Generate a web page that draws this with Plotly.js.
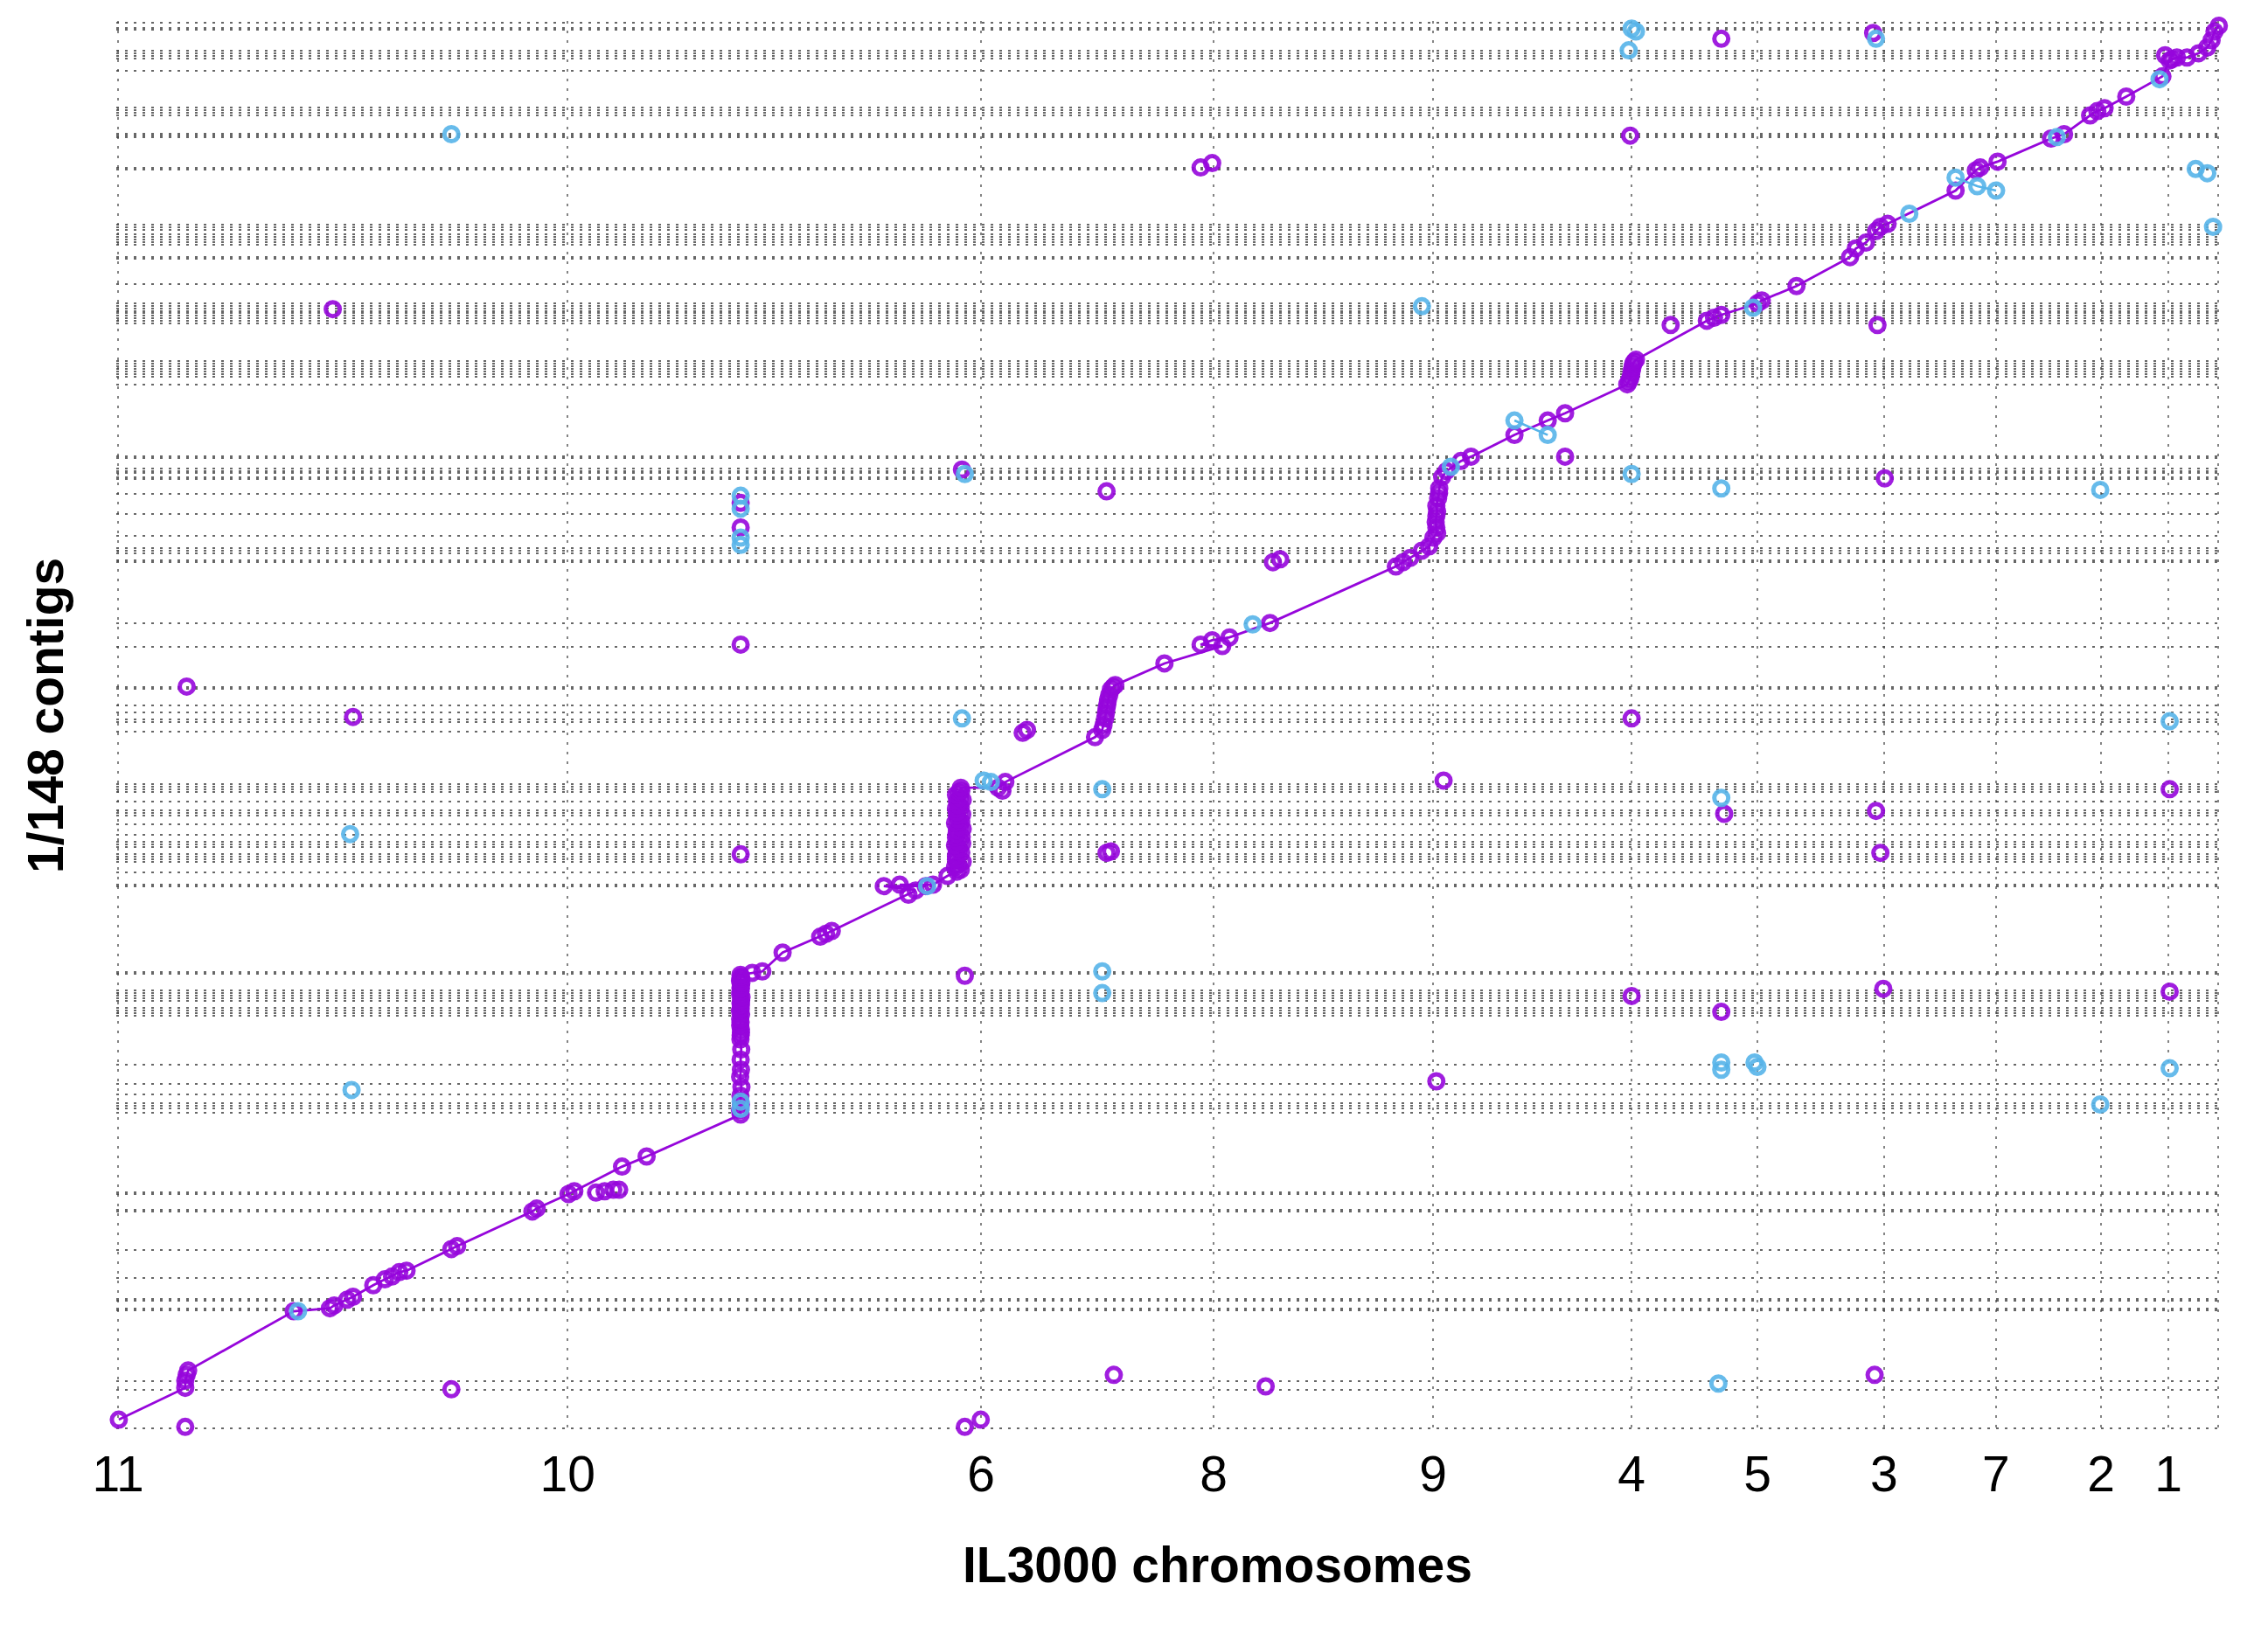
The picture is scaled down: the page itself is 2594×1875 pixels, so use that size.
<!DOCTYPE html>
<html>
<head>
<meta charset="utf-8">
<script src="https://cdn.plot.ly/plotly-3.0.1.min.js"></script>
<style>html,body{margin:0;padding:0;background:#fff;}#chart{width:2594px;height:1875px;}</style>
</head>
<body>
<div id="chart"></div>
<script>
// IL3000 chromosomes, in plotting order, and their lengths (kb)
const chromNames = ["11","10","6","8","9","4","5","3","7","2","1"];
const chromLengths = [4662, 4289, 2412, 2275, 2058, 1307, 1312, 1161, 1089, 698, 517];

// cumulative contig boundaries (kb) of the 148 contigs
const contigBounds = [0, 585, 718, 1796, 1822, 1942, 1968, 2288, 2713, 3298, 3325, 3564, 3591,
  4801, 4868, 4908, 4948, 5081, 5240, 5533, 6278, 6318, 6357, 6397, 6504, 6544, 6584, 6623, 6663,
  6916, 6943, 8246, 8273, 8459, 8618, 8658, 8698, 8738, 8845, 8884, 8924, 9031, 9190, 9323, 9363,
  9403, 9536, 9682, 9722, 9762, 9802, 10600, 10746, 10786, 10893, 10999, 11252, 11278, 11890,
  12249, 13180, 13207, 13313, 13353, 13393, 13579, 13912, 14218, 14444, 14470, 14537, 14564,
  14603, 14763, 14790, 15880, 16000, 16040, 16080, 16120, 16160, 16199, 16239, 16811, 16851,
  16891, 16931, 16971, 16997, 17037, 17077, 17117, 17410, 17795, 17822, 18008, 18048, 18088,
  18128, 18168, 18234, 18274, 18314, 19152, 19179, 19644, 19671, 19697, 19977, 20017, 20056,
  20096, 20655, 20841, 20881, 20921, 20961, 21280, 21307, 21386];

// collinear anchors (forward, purple): genome kb / contig kb
const diagX = [8, 697, 697, 712, 727, 1822, 2197, 2242, 2377, 2437, 2647, 2767, 2842, 2917, 2992,
  3457, 3517, 4297, 4342, 4672, 4732, 5227, 5482,
  6457, 6450, 6460, 6455, 6465, 6452, 6460, 6457, 6463, 6455, 6460, 6452, 6458, 6462, 6455, 6460, 6457,
  6455, 6462, 6450, 6465, 6455, 6460, 6452, 6466, 6455, 6460, 6450, 6462, 6457, 6452, 6460, 6457,
  6577, 6682, 6892, 7282, 7342, 7402, 7942, 8107, 8272, 8377, 8452, 8602,
  8700, 8715, 8690, 8720, 8705, 8695, 8725, 8710, 8700, 8715, 8730, 8720, 8740,
  8740, 8680, 8760, 8690, 8745, 8700, 8680, 8755, 8690, 8750, 8700, 8760, 8680, 8745, 8700, 8755,
  8690, 8740, 8700, 8760, 8690, 8745,
  9127, 9202, 10132, 10207, 10237, 10252, 10267, 10297, 10342, 10220, 10245, 10260, 10280, 10320,
  10852, 11227, 11347, 11452, 11527, 11947, 13252, 13327, 13402, 13522, 13597, 13642,
  13672, 13672, 13672, 13702, 13732, 13777, 13927, 14032, 13680, 13665, 13680, 13690, 13700,
  14482, 14827, 15007,
  15652, 15682, 15697, 15712, 15742, 15690, 15705, 15725, 15670,
  16477, 16552, 16627, 17002, 17047, 17407,
  17962, 18022, 18127, 18232, 18277, 18352, 19057, 19267, 19312, 19492,
  20047, 20182, 20452, 20527, 20602, 20827, 21202, 21277, 21352, 21457, 21577, 21667, 21712, 21742, 21787];
const diagY = [132, 616, 726, 814, 880, 1782, 1826, 1870, 1958, 2002, 2178, 2266, 2310, 2376, 2398,
  2728, 2772, 3300, 3344, 3564, 3608, 3982, 4136,
  4774, 4840, 4928, 5060, 5192, 5346, 5456, 5610, 5764, 5918, 6072, 6226, 6380, 6512, 6644, 6754, 6842,
  6900, 6870, 6810, 6780, 6700, 6690, 6600, 6560, 6470, 6440, 6350, 6300, 6180, 6130, 6020, 5980,
  6930, 6952, 7238, 7480, 7524, 7568, 8250, 8272, 8184, 8250, 8272, 8404,
  8470, 8580, 8712, 8822, 8932, 9042, 9152, 9262, 9372, 9482, 9592, 9680, 9746,
  8500, 8540, 8620, 8650, 8760, 8790, 8870, 8900, 8990, 9000, 9100, 9120, 9210, 9230, 9320, 9340,
  9430, 9450, 9540, 9560, 9640, 9700,
  9746, 9834, 10516, 10626, 10802, 10956, 11088, 11242, 11308, 10700, 10880, 11020, 11160, 11280,
  11638, 11924, 11990, 11902, 12034, 12254, 13112, 13178, 13244, 13354, 13420, 13552,
  13706, 13882, 14036, 14300, 14476, 14564, 14718, 14784, 13620, 13790, 13950, 14150, 14230,
  15114, 15334, 15444,
  15884, 15972, 16082, 16192, 16258, 16020, 16140, 16230, 15930,
  16852, 16896, 16940, 17116, 17160, 17380,
  17820, 17952, 18040, 18216, 18282, 18326, 18832, 19140, 19184, 19272,
  19624, 19690, 19976, 20042, 20086, 20262, 20570, 20812, 20856, 20856, 20922, 21010, 21120, 21252, 21340];

// scattered forward anchors (purple)
const outX = [16627, 18202, 15682, 11227, 11347, 2227, 18247, 15007, 8752, 10252, 18322, 6457, 6457,
  11977, 12052, 6457, 712, 2437, 15697, 13747, 21277, 16657, 18232, 6457, 10252, 10297, 18277,
  8197, 8782, 15697, 18307, 21277, 16627, 13672, 10327, 11902, 18217, 3457, 697, 8782, 8947,
  4957, 5047, 5137, 5197, 9172, 21230, 21300, 9382, 9427, 16102];
const outY = [21142, 21230, 19668, 19184, 19250, 17028, 16786, 14784, 14586, 14256, 14454, 14080, 13706,
  13178, 13222, 11924, 11286, 10824, 10802, 9856, 9724, 9350, 9394, 8734, 8756, 8778, 8756,
  8118, 6886, 6578, 6688, 6644, 6336, 5280, 814, 638, 814, 594, 22, 22, 132,
  3586, 3608, 3630, 3630, 9702, 20890, 20830, 10582, 10626, 16786];

// reverse anchors (blue)
const blueX = [1867, 6457, 6457, 8392, 8977, 9052, 11767, 13822, 16957, 18577, 20107, 21172,
  15697, 15742, 15667, 18232, 3457, 21547, 21667, 21727, 13522, 8782, 15697, 16627, 20557,
  6457, 6457, 6457, 6457, 8752, 21277, 10207, 16627, 2407, 10207, 10207, 2422, 16627, 16627,
  16972, 17002, 21277, 20557, 16597];
const blueY = [1782, 4972, 4860, 8250, 9856, 9834, 12232, 14630, 17050, 18480, 19646, 20526,
  21296, 21252, 20966, 21142, 19690, 19162, 19096, 18282, 17072, 14520, 14520, 14300, 14278,
  14190, 13992, 13552, 13442, 10802, 10758, 9724, 9592, 9042, 6952, 6622, 5148, 5566, 5456,
  5566, 5500, 5478, 4928, 682];

// reverse anchors joined within a contig (blue segments)
const blueSegX = [14482, 14827, null, 19057, 19282, 19477];
const blueSegY = [15334, 15114, null, 19030, 18898, 18832];

// ---- derived: order the collinear anchors along the contig axis ----
const order = diagY.map((_, i) => i).sort((a, b) => diagY[a] - diagY[b]);
const pathX = order.map(i => diagX[i]);
const pathY = order.map(i => diagY[i]);

const chromStarts = [];
let acc = 0;
chromLengths.forEach(l => { chromStarts.push(acc); acc += l; });
const genomeEnd = acc;
const xTickVals = chromStarts.concat([genomeEnd]);
const xTickText = chromNames.concat([""]);
const topBound = contigBounds[contigBounds.length - 1];

const purple = "#9606DB";
const blue = "#56B4E9";
const mk = (c) => ({symbol: "circle-open", size: 16, color: c, line: {width: 5}, opacity: 0.9});

const traces = [
  {x: pathX, y: pathY, type: "scatter", mode: "lines+markers", line: {color: purple, width: 2.8},
   marker: mk(purple), cliponaxis: false, hoverinfo: "skip"},
  {x: outX, y: outY, type: "scatter", mode: "markers", marker: mk(purple), cliponaxis: false, hoverinfo: "skip"},
  {x: blueSegX, y: blueSegY, type: "scatter", mode: "lines+markers", line: {color: blue, width: 2.6},
   marker: mk(blue), connectgaps: false, cliponaxis: false, hoverinfo: "skip"},
  {x: blueX, y: blueY, type: "scatter", mode: "markers", marker: mk(blue), cliponaxis: false, hoverinfo: "skip"}
];

const L = 133, R = 2539, T = 24, B = 1636;
const kbPerPxX = genomeEnd / (2537 - 135);
const kbPerPxY = topBound / (1634 - 26);

const layout = {
  width: 2594, height: 1875,
  paper_bgcolor: "#fff", plot_bgcolor: "#fff",
  showlegend: false,
  margin: {l: L, r: 2594 - R, t: T, b: 1875 - B, pad: 0},
  font: {family: "Liberation Sans, Arial, sans-serif", color: "#000"},
  xaxis: {
    range: [-2 * kbPerPxX, genomeEnd + 2 * kbPerPxX],
    tickmode: "array", tickvals: xTickVals, ticktext: xTickText,
    ticks: "", showline: false, zeroline: false,
    showgrid: true, gridcolor: "rgba(110,110,110,0.85)", gridwidth: 1.6, griddash: "3px,8px",
    tickfont: {size: 57, family: "Liberation Sans, Arial, sans-serif", color: "#000"},
    ticklabelstandoff: 12, automargin: false, fixedrange: true
  },
  yaxis: {
    range: [-2 * kbPerPxY, topBound + 2 * kbPerPxY],
    tickmode: "array", tickvals: contigBounds, showticklabels: false,
    ticks: "", showline: false, zeroline: false,
    showgrid: true, gridcolor: "rgba(65,65,65,0.8)", gridwidth: 1.9, griddash: "3px,7px",
    automargin: false, fixedrange: true
  },
  annotations: [
    {text: "<b>IL3000 chromosomes</b>", xref: "paper", yref: "paper",
     x: (1392 - L) / (R - L), y: -(1790 - B) / (B - T), xanchor: "center", yanchor: "middle",
     showarrow: false, font: {size: 57, family: "Liberation Sans, Arial, sans-serif", color: "#000"}},
    {text: "<b>1/148 contigs</b>", xref: "paper", yref: "paper", textangle: -90,
     x: (52 - L) / (R - L), y: (B - 819) / (B - T), xanchor: "center", yanchor: "middle",
     showarrow: false, font: {size: 57, family: "Liberation Sans, Arial, sans-serif", color: "#000"}}
  ]
};

Plotly.newPlot("chart", traces, layout, {staticPlot: true, displayModeBar: false});
</script>
</body>
</html>
